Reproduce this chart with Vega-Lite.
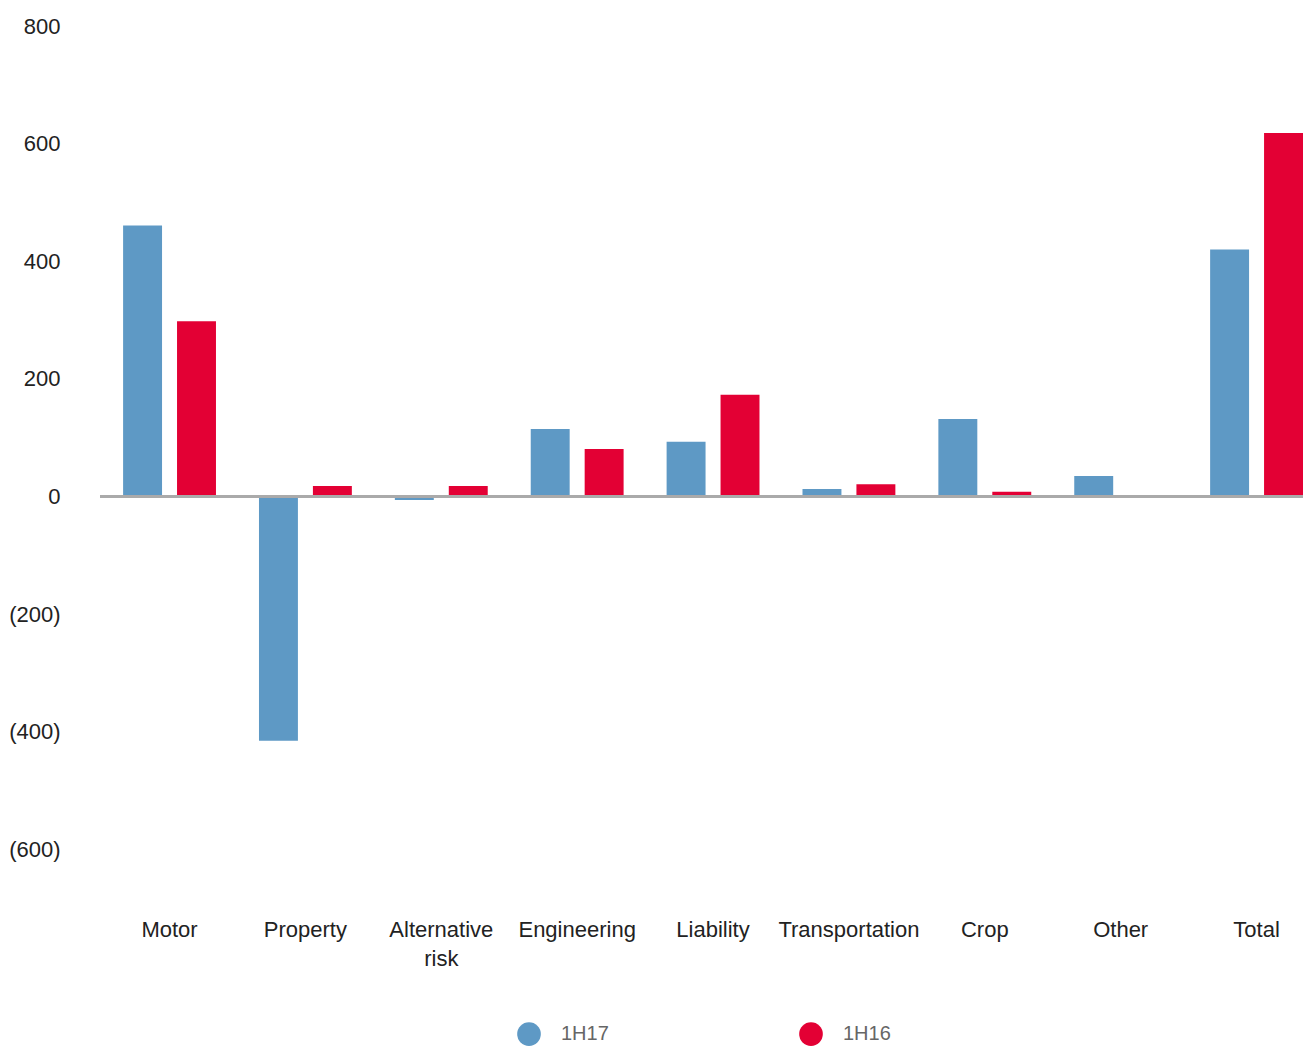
{
  "$schema": "https://vega.github.io/schema/vega-lite/v6.json",
  "autosize": {"type": "none"},
  "padding": {"left": 100, "top": 26, "right": 0, "bottom": 200},
  "width": 1203,
  "height": 823.5,
  "background": "white",
  "config": {
    "view": {"stroke": null},
    "font": "Liberation Sans"
  },
  "data": {
    "values": [
      {"category": "Motor", "series": "1H17", "value": 461},
      {"category": "Motor", "series": "1H16", "value": 298},
      {"category": "Property", "series": "1H17", "value": -415},
      {"category": "Property", "series": "1H16", "value": 18},
      {"category": "Alternative risk", "series": "1H17", "value": -6},
      {"category": "Alternative risk", "series": "1H16", "value": 18},
      {"category": "Engineering", "series": "1H17", "value": 115},
      {"category": "Engineering", "series": "1H16", "value": 81},
      {"category": "Liability", "series": "1H17", "value": 93},
      {"category": "Liability", "series": "1H16", "value": 173},
      {"category": "Transportation", "series": "1H17", "value": 13},
      {"category": "Transportation", "series": "1H16", "value": 21},
      {"category": "Crop", "series": "1H17", "value": 132},
      {"category": "Crop", "series": "1H16", "value": 8},
      {"category": "Other", "series": "1H17", "value": 35},
      {"category": "Other", "series": "1H16", "value": 1},
      {"category": "Total", "series": "1H17", "value": 420},
      {"category": "Total", "series": "1H16", "value": 618}
    ]
  },
  "layer": [
    {
      "mark": {"type": "bar"},
      "encoding": {
        "x": {
          "field": "category",
          "type": "nominal",
          "sort": ["Motor", "Property", "Alternative risk", "Engineering", "Liability", "Transportation", "Crop", "Other", "Total"],
          "scale": {"paddingInner": 0.3165, "paddingOuter": 0.085, "align": 1},
          "axis": {
            "title": null,
            "orient": "bottom",
            "labelAngle": 0,
            "domain": false,
            "ticks": false,
            "labelPadding": 70,
            "labelFontSize": 22,
            "labelColor": "#222222",
            "labelLineHeight": 29,
            "labelExpr": "datum.label == 'Alternative risk' ? ['Alternative', 'risk'] : datum.label"
          }
        },
        "xOffset": {
          "field": "series",
          "type": "nominal",
          "sort": ["1H17", "1H16"],
          "scale": {"paddingInner": 0.278, "paddingOuter": 0}
        },
        "y": {
          "field": "value",
          "type": "quantitative",
          "scale": {"domain": [-600, 800], "nice": false},
          "axis": {
            "title": null,
            "values": [-600, -400, -200, 0, 200, 400, 600, 800],
            "grid": false,
            "domain": false,
            "ticks": false,
            "labelPadding": 40,
            "labelFontSize": 22,
            "labelColor": "#222222",
            "labelExpr": "datum.value < 0 ? '(' + format(-datum.value, 'd') + ')' : format(datum.value, 'd')"
          }
        },
        "color": {
          "field": "series",
          "type": "nominal",
          "scale": {"domain": ["1H17", "1H16"], "range": ["#5E99C5", "#E30034"]},
          "legend": {
            "title": null,
            "orient": "none",
            "legendX": 417,
            "legendY": 996,
            "direction": "horizontal",
            "symbolType": "circle",
            "symbolSize": 560,
            "symbolStrokeWidth": 0,
            "labelFontSize": 20,
            "labelColor": "#666666",
            "labelOffset": 20,
            "columnPadding": 190
          }
        }
      }
    },
    {
      "mark": {"type": "rule", "color": "#AAAAAA", "strokeWidth": 2},
      "encoding": {"y": {"datum": 0}}
    }
  ]
}
